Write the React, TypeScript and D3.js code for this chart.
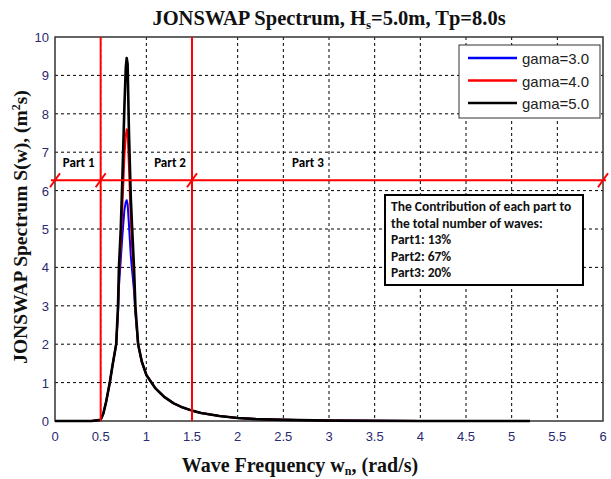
import React from "react";
import * as d3 from "d3";

const freq = [0, 0.4, 0.5, 0.53, 0.56, 0.6, 0.63, 0.67, 0.69, 0.7, 0.72, 0.74, 0.76, 0.775, 0.785, 0.795, 0.81, 0.83, 0.845, 0.865, 0.88, 0.91, 0.95, 1.0, 1.1, 1.2, 1.3, 1.4, 1.5, 1.6, 1.8, 2.0, 2.2, 2.5, 3.0, 4.0, 5.2];
const gama3 = [0, 0, 0.03, 0.2, 0.5, 1.0, 1.45, 2.0, 2.8, 3.5, 4.2, 4.9, 5.5, 5.7, 5.75, 5.65, 5.1, 4.3, 3.9, 3.4, 2.8, 2.0, 1.55, 1.2, 0.85, 0.62, 0.46, 0.35, 0.27, 0.21, 0.13, 0.08, 0.05, 0.03, 0.01, 0, 0];
const gama4 = [0, 0, 0.03, 0.2, 0.5, 1.0, 1.45, 2.0, 2.9, 3.7, 4.6, 5.7, 6.9, 7.45, 7.6, 7.5, 6.6, 5.2, 4.5, 3.7, 2.9, 2.0, 1.55, 1.2, 0.85, 0.62, 0.46, 0.35, 0.27, 0.21, 0.13, 0.08, 0.05, 0.03, 0.01, 0, 0];
const gama5 = [0, 0, 0.03, 0.2, 0.5, 1.0, 1.45, 2.0, 3.0, 4.0, 5.0, 6.5, 8.2, 9.2, 9.45, 9.3, 7.5, 5.8, 5.0, 4.0, 3.0, 2.0, 1.55, 1.2, 0.85, 0.62, 0.46, 0.35, 0.27, 0.21, 0.13, 0.08, 0.05, 0.03, 0.01, 0, 0];

const seriesNames = ["gama=3.0", "gama=4.0", "gama=5.0"];
const seriesColors = ["#0000ff", "#ff0000", "#000000"];
const xTicks = [0, 0.5, 1, 1.5, 2, 2.5, 3, 3.5, 4, 4.5, 5, 5.5, 6];
const yTicks = [0, 1, 2, 3, 4, 5, 6, 7, 8, 9, 10];
const partBounds = [0, 0.5, 1.5, 6];
const partLevel = 6.27;
const partLabels = [
  { text: "Part 1", x: 0.26 },
  { text: "Part 2", x: 1.26 },
  { text: "Part 3", x: 2.77 },
];
const noteLines = [
  "The Contribution of each part to",
  "the total number of waves:",
  "Part1: 13%",
  "Part2: 67%",
  "Part3: 20%",
];

export default function App() {
  const W = 611, H = 479;
  const left = 55, right = 603, top = 37, bottom = 421;
  const x = d3.scaleLinear().domain([0, 6]).range([left, right]);
  const y = d3.scaleLinear().domain([0, 10]).range([bottom, top]);
  const series = [gama3, gama4, gama5];
  const line = d3
    .line<number>()
    .x((_, i) => x(freq[i]))
    .y((d) => y(d));
  const tickColor = "#2a2a70";
  const sans = "Carlito, Calibri, Lato, 'Open Sans', sans-serif";
  const serif = "'Times New Roman', 'Liberation Serif', serif";

  return (
    <svg width={W} height={H} style={{ position: "absolute", left: 0, top: 0, background: "#fff" }}>
      <rect x={0} y={0} width={W} height={H} fill="#fff" />
      {/* grid */}
      {xTicks.slice(1, -1).map((t) => (
        <line key={"gx" + t} x1={x(t)} x2={x(t)} y1={top} y2={bottom} stroke="#000" strokeWidth={1} strokeDasharray="3,3" />
      ))}
      {yTicks.slice(1, -1).map((t) => (
        <line key={"gy" + t} x1={left} x2={right} y1={y(t)} y2={y(t)} stroke="#000" strokeWidth={1} strokeDasharray="3,3" />
      ))}
      {/* frame */}
      <rect x={left} y={top} width={right - left} height={bottom - top} fill="none" stroke="#333" strokeWidth={1.5} />
      {/* tick labels */}
      {xTicks.map((t) => (
        <text key={"xt" + t} x={x(t)} y={bottom + 20} textAnchor="middle" fontFamily="Arial, 'Liberation Sans', sans-serif" fontSize={13} fill={tickColor}>
          {String(t)}
        </text>
      ))}
      {yTicks.map((t) => (
        <text key={"yt" + t} x={left - 6} y={y(t) + 5} textAnchor="end" fontFamily="Arial, 'Liberation Sans', sans-serif" fontSize={13} fill={tickColor}>
          {String(t)}
        </text>
      ))}
      {/* curves */}
      {series.map((s, i) => (
        <path key={"s" + i} d={line(s) || ""} fill="none" stroke={seriesColors[i]} strokeWidth={i === 2 ? 2.6 : 2} strokeLinejoin="round" />
      ))}
      {/* red part lines */}
      {partBounds.slice(1, 3).map((b) => (
        <line key={"rv" + b} x1={x(b)} x2={x(b)} y1={top} y2={bottom} stroke="#ff0000" strokeWidth={2} />
      ))}
      <line x1={x(0) - 4} x2={x(6) + 3} y1={y(partLevel)} y2={y(partLevel)} stroke="#ff0000" strokeWidth={2} />
      {partBounds.map((b) => (
        <line key={"sl" + b} x1={x(b) - 5} x2={x(b) + 5} y1={y(partLevel) + 7} y2={y(partLevel) - 7} stroke="#ff0000" strokeWidth={2} />
      ))}
      {partLabels.map((p) => (
        <text key={p.text} x={x(p.x)} y={y(partLevel) - 13} textAnchor="middle" fontFamily={sans} fontWeight="bold" fontSize={13} fill="#000">
          {p.text}
        </text>
      ))}
      {/* note box */}
      <rect x={385} y={195} width={198} height={90} fill="#fff" stroke="#000" strokeWidth={2} />
      {noteLines.map((t, i) => (
        <text key={t} x={391} y={211 + i * 16.6} fontFamily={sans} fontWeight="bold" fontSize={13.5} fill="#111">
          {t}
        </text>
      ))}
      {/* legend */}
      <rect x={459} y={45} width={141} height={73} fill="#fff" stroke="#333" strokeWidth={1} />
      {seriesNames.map((n, i) => (
        <g key={n}>
          <line x1={468} x2={517} y1={58 + i * 22.5} y2={58 + i * 22.5} stroke={seriesColors[i]} strokeWidth={2.5} />
          <text x={522} y={64 + i * 22.5} fontFamily="Arial, 'Liberation Sans', sans-serif" fontSize={15} fill="#222">
            {n}
          </text>
        </g>
      ))}
      {/* titles */}
      <text x={329} y={25} textAnchor="middle" fontFamily={serif} fontWeight="bold" fontSize={20.5} fill="#111">
        JONSWAP Spectrum, H<tspan fontSize={13} dy={4}>s</tspan><tspan dy={-4}>=5.0m, Tp=8.0s</tspan>
      </text>
      <text x={300} y={472} textAnchor="middle" fontFamily={serif} fontWeight="bold" fontSize={20} fill="#111">
        Wave Frequency w<tspan fontSize={12} dy={3}>n</tspan><tspan dy={-3}>, (rad/s)</tspan>
      </text>
      <text transform={`translate(27,227) rotate(-90)`} textAnchor="middle" fontFamily={serif} fontWeight="bold" fontSize={19.5} fill="#111">
        JONSWAP Spectrum S(w), (m<tspan fontSize={12} dy={-7}>2</tspan><tspan dy={7}>s)</tspan>
      </text>
    </svg>
  );
}
